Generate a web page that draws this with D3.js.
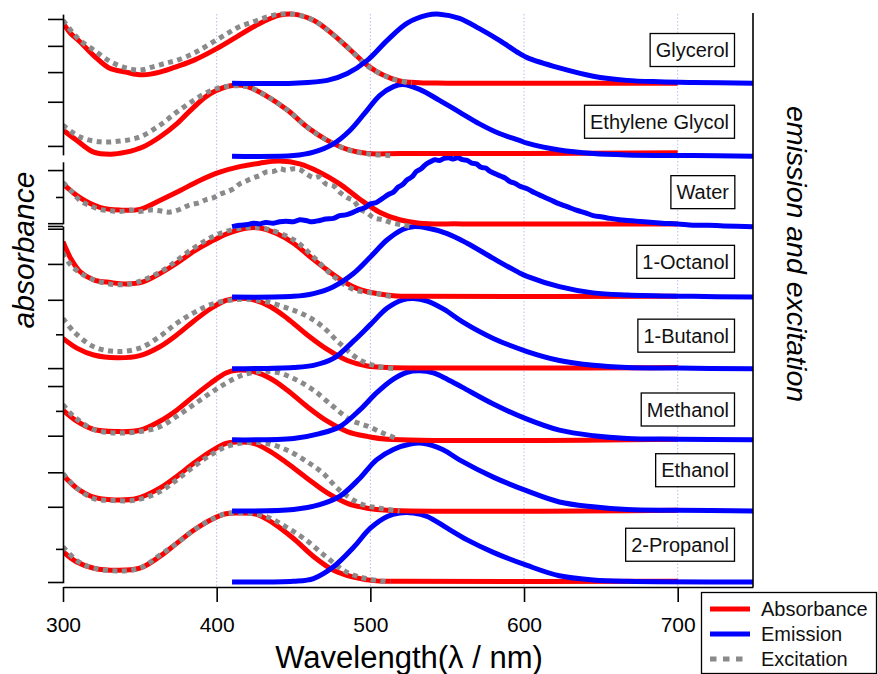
<!DOCTYPE html>
<html>
<head>
<meta charset="utf-8">
<script src="https://cdn.jsdelivr.net/npm/d3@7"></script>
<style>
  html, body { margin: 0; padding: 0; background: #fff; }
  svg { display: block; font-family: Arial, "Liberation Sans", sans-serif; }
</style>
</head>
<body>
<svg id="chart" width="878" height="674"></svg>
<script>
// ---- solvents, stacked top to bottom ----
const solvents = ["Glycerol", "Ethylene Glycol", "Water", "1-Octanol", "1-Butanol", "Methanol", "Ethanol", "2-Propanol"];
// vertical offset of each trace group (normalised intensity units)
const offsets = [7.23, 6.17, 5.15, 4.13, 3.09, 2.06, 1.03, 0];
// height of each solvent tag above its group baseline
const labelLift = [0.48, 0.50, 0.50, 0.51, 0.48, 0.44, 0.59, 0.54];

const xTicks = [300, 400, 500, 600, 700];
const gridLines = [400, 500, 600, 700];

// stacked left axis: segments and tick levels (same units as offsets)
const leftSegments = [[8.23, 6.19], [6.09, 5.19], [5.16, -0.01]];
const leftMajor = [8.16, 7.77, 7.39, 6.96, 6.32, 5.97, 5.20, 5.16, 5.12, 4.61, 4.09, 3.10, 2.84, 2.12, 1.59, 1.09, 0];
const leftMinor = [5.58, 3.59, 2.48, 0.48];

// ---- spectra: [wavelength nm, normalised value] ----
const absGlycerol = [[300,0.87],[305,0.72],[311,0.60],[320,0.40],[330,0.22],[341,0.16],[347,0.13],[352,0.12],[363,0.16],[374,0.24],[385,0.33],[400,0.50],[413,0.67],[428,0.865],[441,0.985],[450,1.0],[463,0.91],[476,0.70],[487,0.48],[498,0.26],[508,0.12],[519,0.03],[532,0.005],[550,0],[700,0]];
const excGlycerol = [[300,0.91],[306,0.74],[311,0.62],[320,0.48],[331,0.31],[341,0.22],[350,0.19],[359,0.24],[367,0.29],[374,0.33],[383,0.41],[389,0.48],[398,0.60],[407,0.72],[415,0.82],[424,0.89],[433,0.96],[441,1.0],[450,1.0],[463,0.91],[476,0.70],[487,0.48],[498,0.25],[508,0.12],[516,0.05],[527,0]];
const emGlycerol = [[410,0],[450,0],[472,0.04],[485,0.14],[498,0.33],[511,0.62],[524,0.87],[537,0.985],[545,1.0],[558,0.94],[571,0.79],[584,0.62],[597,0.43],[602,0.37],[623,0.22],[645,0.10],[667,0.04],[688,0.02],[710,0.01],[749,0]];

const absEthyleneGlycol = [[300,0.38],[309,0.23],[320,0.06],[331,0.03],[341,0.06],[352,0.135],[363,0.28],[374,0.47],[385,0.71],[396,0.91],[411,1.03],[420,1.01],[432,0.88],[446,0.67],[459,0.42],[472,0.23],[485,0.10],[498,0.04],[520,0.04],[600,0.04],[700,0.05]];
const excEthyleneGlycol = [[300,0.45],[311,0.28],[324,0.21],[337,0.22],[350,0.28],[363,0.45],[374,0.64],[385,0.81],[396,0.95],[406,1.01],[420,1.01],[432,0.88],[446,0.67],[459,0.42],[472,0.23],[486,0.09],[500,0.03],[513,0.01]];
const emEthyleneGlycol = [[410,0],[450,0.01],[463,0.06],[476,0.18],[487,0.38],[498,0.67],[506,0.88],[515,1.01],[521,1.04],[532,0.97],[545,0.81],[558,0.64],[571,0.47],[584,0.33],[597,0.23],[602,0.19],[623,0.09],[645,0.04],[667,0.02],[710,0.01],[749,0]];

const absWater = [[300,0.62],[311,0.42],[324,0.28],[337,0.24],[350,0.25],[363,0.38],[376,0.52],[389,0.67],[402,0.79],[415,0.87],[428,0.92],[441,0.95],[454,0.91],[467,0.79],[480,0.62],[493,0.40],[506,0.21],[519,0.10],[532,0.05],[560,0.04],[700,0.04]];
const excWater = [[300,0.64],[306,0.50],[311,0.38],[318,0.30],[324,0.25],[331,0.23],[337,0.22],[344,0.24],[350,0.22],[357,0.24],[363,0.23],[369,0.21],[376,0.25],[382,0.31],[389,0.35],[393,0.39],[398,0.42],[402,0.47],[406,0.50],[411,0.55],[415,0.62],[419,0.66],[424,0.71],[428,0.74],[432,0.79],[437,0.80],[441,0.84],[445,0.82],[450,0.84],[454,0.83],[458,0.77],[463,0.71],[467,0.72],[471,0.62],[476,0.59],[480,0.50],[485,0.42],[489,0.38],[493,0.26],[498,0.20],[502,0.13],[508,0.10],[515,0.05],[522,0.02],[527,0]];
const emWater = [[410,0],[415,0.02],[420,0.03],[424,0.05],[428,0.04],[432,0.06],[437,0.05],[441,0.07],[445,0.08],[450,0.07],[454,0.10],[458,0.09],[462,0.07],[467,0.09],[471,0.11],[476,0.12],[480,0.16],[484,0.17],[489,0.21],[493,0.25],[497,0.28],[500,0.33],[504,0.35],[508,0.41],[512,0.47],[515,0.50],[518,0.57],[521,0.61],[524,0.68],[527,0.72],[530,0.80],[533,0.84],[536,0.90],[539,0.94],[542,0.97],[545,0.96],[548,0.99],[551,1.0],[554,0.98],[557,1.0],[560,0.97],[563,0.96],[566,0.92],[569,0.91],[572,0.86],[575,0.85],[578,0.80],[582,0.76],[585,0.73],[588,0.70],[591,0.65],[594,0.63],[597,0.59],[602,0.55],[607,0.49],[612,0.44],[617,0.39],[623,0.33],[628,0.29],[634,0.24],[640,0.20],[645,0.16],[651,0.14],[656,0.12],[662,0.10],[667,0.09],[673,0.08],[678,0.07],[684,0.06],[690,0.05],[700,0.04],[710,0.02],[720,0.02],[730,0.01],[749,0]];

const absOctanol = [[300,0.80],[305,0.56],[311,0.37],[320,0.25],[331,0.21],[341,0.19],[352,0.22],[363,0.34],[374,0.49],[385,0.66],[396,0.80],[407,0.92],[420,1.0],[428,1.0],[439,0.92],[450,0.78],[461,0.58],[472,0.39],[483,0.22],[493,0.11],[504,0.05],[515,0.02],[530,0.01],[700,0.01]];
const excOctanol = [[300,0.64],[306,0.44],[320,0.25],[341,0.18],[363,0.36],[385,0.71],[402,0.92],[420,1.01],[432,0.99],[450,0.83],[463,0.58],[476,0.30],[489,0.11],[504,0.05],[515,0]];
const emOctanol = [[410,0],[450,0.01],[463,0.05],[476,0.15],[489,0.34],[500,0.58],[511,0.83],[521,0.98],[528,1.02],[537,1.0],[550,0.92],[563,0.78],[580,0.56],[597,0.35],[602,0.30],[623,0.15],[645,0.06],[667,0.03],[710,0.01],[749,0]];

const absButanol = [[300,0.44],[309,0.30],[320,0.20],[335,0.16],[350,0.19],[363,0.32],[374,0.49],[385,0.69],[396,0.87],[406,0.99],[413,1.02],[424,1.0],[435,0.90],[446,0.73],[459,0.49],[472,0.28],[485,0.12],[498,0.04],[511,0.02],[700,0.02]];
const excButanol = [[300,0.73],[307,0.54],[320,0.32],[335,0.25],[350,0.30],[363,0.47],[374,0.66],[385,0.81],[396,0.93],[411,1.0],[428,0.99],[446,0.88],[459,0.76],[469,0.61],[480,0.37],[493,0.13],[504,0.04],[517,0]];
const emButanol = [[410,0],[450,0.02],[463,0.05],[476,0.15],[489,0.40],[500,0.64],[511,0.88],[521,1.0],[528,1.02],[537,0.98],[548,0.86],[560,0.68],[580,0.44],[602,0.25],[623,0.12],[645,0.05],[667,0.02],[700,0.01],[749,0]];

const absMethanol = [[300,0.43],[309,0.27],[320,0.15],[335,0.12],[350,0.14],[363,0.27],[374,0.43],[385,0.63],[396,0.82],[406,0.97],[413,1.01],[424,0.99],[435,0.89],[446,0.72],[459,0.48],[472,0.27],[485,0.12],[498,0.05],[511,0.01],[700,0.01]];
const excMethanol = [[300,0.51],[307,0.34],[320,0.15],[335,0.10],[350,0.12],[363,0.19],[374,0.34],[385,0.51],[396,0.68],[406,0.82],[417,0.94],[428,0.99],[439,0.98],[450,0.89],[463,0.72],[476,0.48],[487,0.29],[498,0.20],[508,0.10],[517,0.02]];
const emMethanol = [[410,0],[450,0.02],[467,0.09],[480,0.19],[493,0.43],[504,0.68],[515,0.88],[524,0.98],[532,1.0],[541,0.97],[550,0.88],[560,0.76],[580,0.52],[602,0.30],[623,0.14],[645,0.06],[667,0.02],[700,0.01],[749,0]];

const absEthanol = [[300,0.52],[309,0.33],[320,0.20],[333,0.16],[348,0.18],[363,0.33],[374,0.50],[385,0.69],[396,0.86],[406,0.98],[413,1.0],[424,0.98],[435,0.86],[446,0.69],[459,0.47],[472,0.26],[485,0.11],[498,0.04],[511,0.01],[700,0.01]];
const excEthanol = [[300,0.54],[309,0.33],[320,0.18],[333,0.15],[348,0.16],[363,0.28],[374,0.45],[385,0.64],[396,0.81],[406,0.93],[419,0.99],[432,0.98],[446,0.88],[459,0.71],[469,0.55],[480,0.30],[493,0.11],[506,0.04],[519,0]];
const emEthanol = [[410,0],[450,0.02],[467,0.09],[480,0.21],[493,0.47],[504,0.74],[515,0.89],[526,0.97],[534,0.98],[547,0.89],[558,0.74],[580,0.49],[602,0.29],[623,0.13],[645,0.06],[667,0.02],[700,0.01],[749,0]];

const absPropanol = [[300,0.44],[309,0.29],[320,0.20],[335,0.17],[350,0.20],[363,0.37],[374,0.56],[385,0.75],[396,0.90],[406,0.99],[415,1.0],[426,0.98],[437,0.85],[450,0.63],[463,0.37],[476,0.17],[489,0.07],[502,0.02],[515,0.01],[700,0.01]];
const excPropanol = [[300,0.51],[309,0.31],[320,0.20],[335,0.16],[350,0.20],[363,0.39],[374,0.56],[385,0.75],[396,0.90],[406,0.99],[419,1.0],[432,0.95],[445,0.80],[458,0.61],[471,0.37],[484,0.15],[497,0.05],[513,0]];
const emPropanol = [[410,0],[450,0.01],[463,0.05],[476,0.22],[489,0.50],[500,0.78],[511,0.95],[519,1.0],[528,1.0],[537,0.95],[550,0.78],[563,0.61],[580,0.43],[602,0.24],[623,0.09],[645,0.03],[667,0.01],[749,0]];

const absorbanceSets = [absGlycerol, absEthyleneGlycol, absWater, absOctanol, absButanol, absMethanol, absEthanol, absPropanol];
const excitationSets = [excGlycerol, excEthyleneGlycol, excWater, excOctanol, excButanol, excMethanol, excEthanol, excPropanol];
const emissionSets = [emGlycerol, emEthyleneGlycol, emWater, emOctanol, emButanol, emMethanol, emEthanol, emPropanol];

const legendItems = ["Absorbance", "Emission", "Excitation"];

// ---- drawing ----
const svg = d3.select("#chart");
const colors = { abs: "#ff0000", em: "#0000ff", exc: "#8a8a8a" };

const x = d3.scaleLinear().domain([300, 749]).range([63, 753]);
const y = d3.scaleLinear().domain([0, 1]).range([582, 513]);
const plotTop = 14, axisY = 587;

// dotted grid lines
svg.append("g").selectAll("line").data(gridLines).join("line")
  .attr("x1", d => x(d)).attr("x2", d => x(d))
  .attr("y1", plotTop).attr("y2", axisY)
  .attr("stroke", "#a8a8f0").attr("stroke-width", 0.8)
  .attr("stroke-dasharray", "1.5,2");

const table = solvents.map((name, i) => ({
  name, offset: offsets[i], lift: labelLift[i],
  abs: absorbanceSets[i], exc: excitationSets[i], em: emissionSets[i]
}));

const line = off => d3.line()
  .x(d => x(d[0]))
  .y(d => y(off + d[1]))
  .curve(d3.curveCatmullRom.alpha(0.5));

svg.append("defs").append("clipPath").attr("id", "plotClip")
  .append("rect").attr("x", 63).attr("y", 0).attr("width", 690).attr("height", axisY);

const traces = svg.append("g").attr("clip-path", "url(#plotClip)");
// lower groups first so upper groups sit on top
table.slice().reverse().forEach(s => {
  const g = traces.append("g");
  g.append("path").attr("d", line(s.offset)(s.abs))
    .attr("fill", "none").attr("stroke", colors.abs).attr("stroke-width", 5)
    .attr("stroke-linejoin", "round");
  g.append("path").attr("d", line(s.offset)(s.exc))
    .attr("fill", "none").attr("stroke", colors.exc).attr("stroke-width", 5)
    .attr("stroke-dasharray", "5,4.5");
  g.append("path").attr("d", line(s.offset)(s.em))
    .attr("fill", "none").attr("stroke", colors.em).attr("stroke-width", 5)
    .attr("stroke-linejoin", "round");
});

// bottom axis
const xAxis = svg.append("g").attr("transform", `translate(0,${axisY})`)
  .call(d3.axisBottom(x).tickValues(xTicks).tickSize(15).tickSizeOuter(0).tickPadding(15));
xAxis.select(".domain").attr("stroke", "#000").attr("stroke-width", 1.6);
xAxis.selectAll(".tick line").attr("stroke", "#000").attr("stroke-width", 1.6);
xAxis.selectAll(".tick text").attr("font-size", 21).attr("font-family", "Arial, 'Liberation Sans', sans-serif").attr("fill", "#000");

// stacked left axis segments
leftSegments.forEach(([hi, lo]) => {
  const seg = y.copy().domain([lo, hi]).range([y(lo), y(hi)]);
  const inSeg = v => v <= hi + 1e-6 && v >= lo - 1e-6;
  const gMaj = svg.append("g").attr("transform", "translate(63,0)")
    .call(d3.axisLeft(seg).tickValues(leftMajor.filter(inSeg)).tickSize(15).tickSizeOuter(0).tickFormat(""));
  gMaj.select(".domain").attr("stroke", "#000").attr("stroke-width", 1.6);
  gMaj.selectAll(".tick line").attr("stroke", "#000").attr("stroke-width", 1.6);
  const gMin = svg.append("g").attr("transform", "translate(63,0)")
    .call(d3.axisLeft(seg).tickValues(leftMinor.filter(inSeg)).tickSize(7).tickSizeOuter(0).tickFormat(""));
  gMin.select(".domain").remove();
  gMin.selectAll(".tick line").attr("stroke", "#000").attr("stroke-width", 1.6);
});

// right axis line
svg.append("line")
  .attr("x1", x(749)).attr("x2", x(749)).attr("y1", 13).attr("y2", axisY)
  .attr("stroke", "#000").attr("stroke-width", 1.6);

// solvent tags
const tags = svg.append("g").selectAll("g").data(table).join("g")
  .attr("transform", d => `translate(0,${y(d.offset + d.lift)})`);
tags.append("text")
  .attr("x", 734 - 5).attr("y", 0)
  .attr("text-anchor", "end").attr("dominant-baseline", "central")
  .attr("font-size", 20).attr("fill", "#111")
  .text(d => d.name);
tags.each(function () {
  const g = d3.select(this);
  const bb = g.select("text").node().getBBox();
  g.insert("rect", "text")
    .attr("x", bb.x - 5.5).attr("y", -16.5)
    .attr("width", bb.width + 11).attr("height", 33)
    .attr("fill", "#fff").attr("stroke", "#000").attr("stroke-width", 1.3);
});

// axis titles
svg.append("text")
  .attr("x", 409).attr("y", 668).attr("text-anchor", "middle")
  .attr("font-size", 31).attr("fill", "#000")
  .text("Wavelength(λ / nm)");
svg.append("text")
  .attr("transform", "translate(34,250) rotate(-90)")
  .attr("text-anchor", "middle").attr("font-size", 30).attr("font-style", "italic").attr("fill", "#000")
  .text("absorbance");
svg.append("text")
  .attr("transform", "translate(787,254) rotate(90)")
  .attr("text-anchor", "middle").attr("font-size", 28.5).attr("font-style", "italic").attr("fill", "#000")
  .text("emission and excitation");

// legend
const legend = svg.append("g").attr("transform", "translate(701,592)");
legend.append("rect").attr("x", 0.5).attr("y", 0.5).attr("width", 175).attr("height", 81)
  .attr("fill", "#fff").attr("stroke", "#000").attr("stroke-width", 1.3);
const legendStyle = [
  { color: colors.abs, dash: null },
  { color: colors.em, dash: null },
  { color: colors.exc, dash: "6.5,6.5" }
];
const rows = legend.selectAll("g.row").data(legendItems).join("g")
  .attr("class", "row")
  .attr("transform", (d, i) => `translate(0,${17 + i * 25})`);
rows.append("line")
  .attr("x1", 9).attr("x2", (d, i) => i === 2 ? 42 : 49)
  .attr("stroke", (d, i) => legendStyle[i].color).attr("stroke-width", 5)
  .attr("stroke-dasharray", (d, i) => legendStyle[i].dash);
rows.append("text")
  .attr("x", 60).attr("dominant-baseline", "central")
  .attr("font-size", 20).attr("fill", "#111")
  .text(d => d);
</script>
</body>
</html>
